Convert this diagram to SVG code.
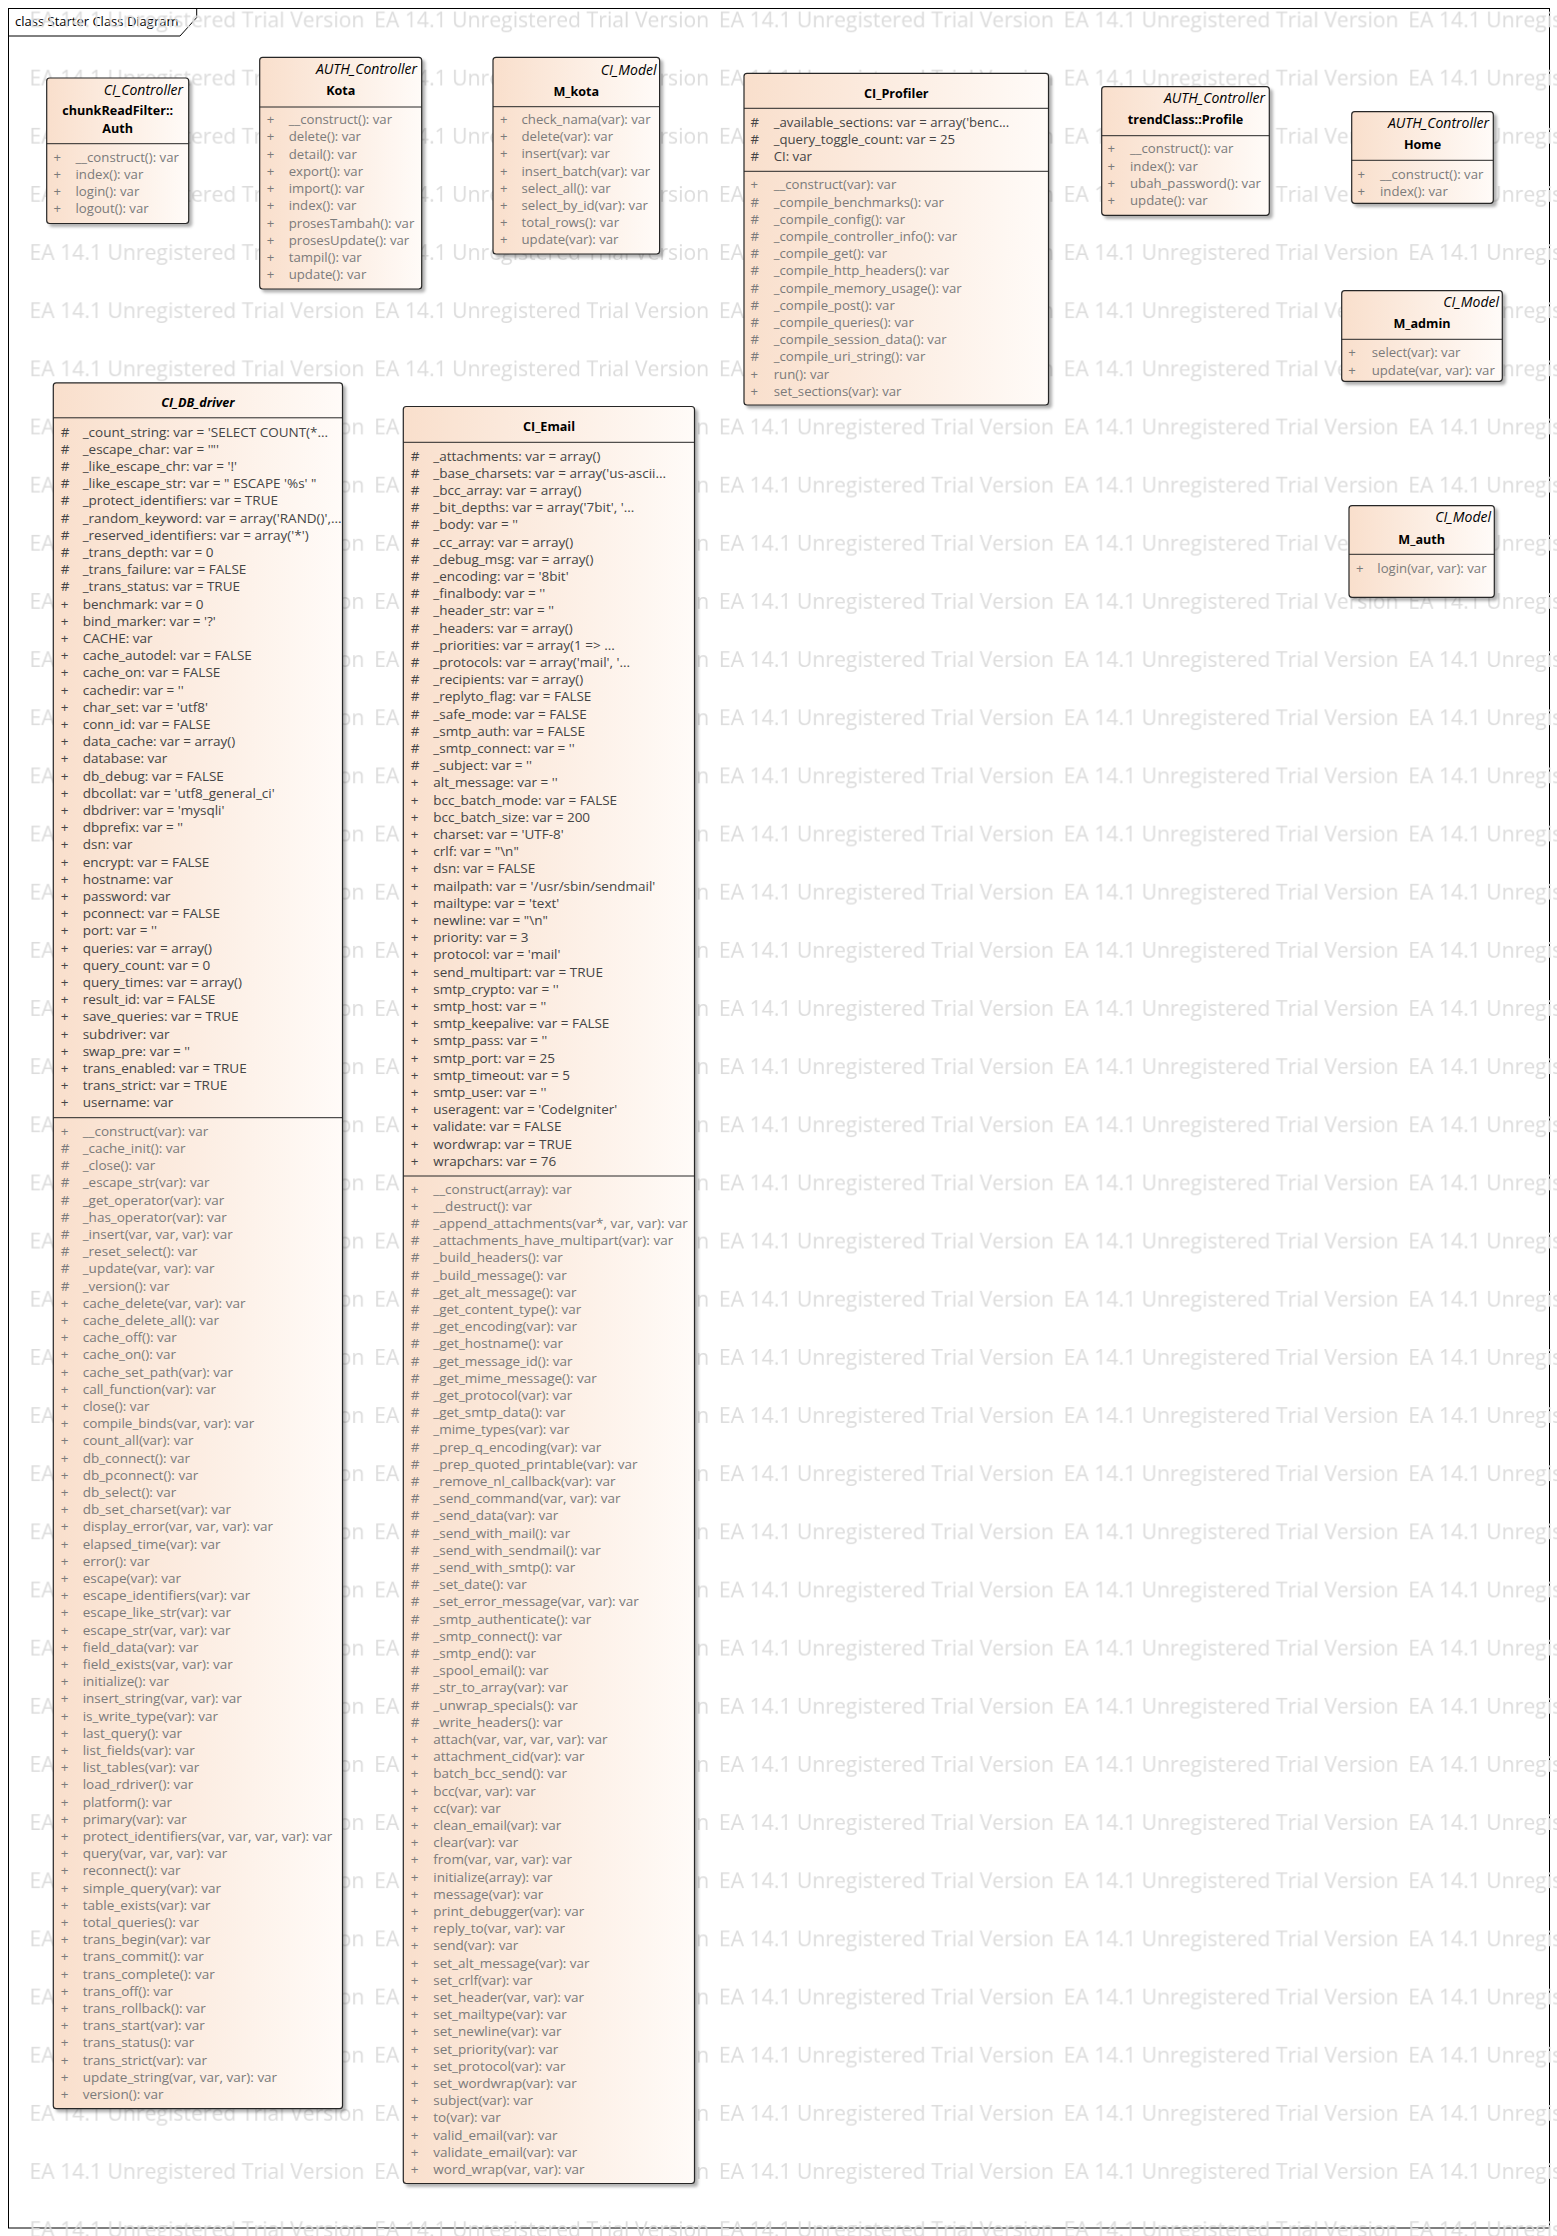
<svg xmlns="http://www.w3.org/2000/svg" width="1557" height="2236" viewBox="0 0 1557 2236">
<defs>
<linearGradient id="fillg" x1="0" y1="0" x2="1" y2="0"><stop offset="0" stop-color="#f9dfcc"/><stop offset="1" stop-color="#fffbf8"/></linearGradient>
<filter id="shadow" x="-5%" y="-5%" width="115%" height="115%"><feDropShadow dx="3" dy="3" stdDeviation="1.5" flood-color="#000" flood-opacity="0.3"/></filter>
<pattern id="wm" patternUnits="userSpaceOnUse" x="29.5" y="-18" width="344.7" height="58.15"><text class="wmt" x="0" y="45" textLength="335" lengthAdjust="spacingAndGlyphs">EA 14.1 Unregistered Trial Version</text></pattern>
</defs>
<style>
text{font-family:"Open Sans","Noto Sans","DejaVu Sans",sans-serif}
.box{fill:url(#fillg);stroke:#262626;stroke-width:1.2;filter:url(#shadow)}
.ln{stroke:#262626;stroke-width:1}
.st{font-size:14px;font-style:italic;text-anchor:end;fill:#000}
.nm{font-size:12.6px;font-weight:bold;text-anchor:middle;fill:#000}
.at{font-size:13.2px;fill:#454545}
.op{font-size:13.2px;fill:#7b7b7b}
.at.bg,.op.bg{font-size:13.5px}
.wmt{font-size:21px;fill:#dcdcdc}
.lbl{font-size:13px;fill:#000}
</style>
<rect x="0" y="0" width="1557" height="2236" fill="#fff"/>
<g id="frame">
<rect x="8.5" y="8.5" width="1541" height="2219.5" fill="none" stroke="#000" stroke-width="1"/>
<path d="M8.5,36 H180 L196.7,17.5 V8.5" fill="none" stroke="#000" stroke-width="1"/>
<text class="lbl" x="15" y="26">class Starter Class Diagram</text>
</g>
<rect id="watermark" x="29.5" y="0" width="1527.5" height="2236" fill="url(#wm)"/>
<g id="connectors"></g>

<g id="chunkReadFilter_Auth">
<rect class="box" x="46.7" y="78" width="142" height="145.5" rx="3"/>
<line class="ln" x1="46.7" y1="143.7" x2="188.7" y2="143.7"/>
<text class="st" x="183" y="94.5">CI_Controller</text>
<text class="nm" x="117.7" y="115">chunkReadFilter::</text>
<text class="nm" x="117.7" y="132.5">Auth</text>
<text class="op" y="144.5">
<tspan x="53.5" dy="17.2">+</tspan><tspan x="75.5">__construct(): var</tspan>
<tspan x="53.5" dy="17.2">+</tspan><tspan x="75.5">index(): var</tspan>
<tspan x="53.5" dy="17.2">+</tspan><tspan x="75.5">login(): var</tspan>
<tspan x="53.5" dy="17.2">+</tspan><tspan x="75.5">logout(): var</tspan>
</text>
</g>

<g id="Kota">
<rect class="box" x="259.7" y="57.3" width="162" height="231.7" rx="3"/>
<line class="ln" x1="259.7" y1="107" x2="421.7" y2="107"/>
<text class="st" x="417" y="74">AUTH_Controller</text>
<text class="nm" x="340.8" y="95">Kota</text>
<text class="op" y="106.74">
<tspan x="266.7" dy="17.26">+</tspan><tspan x="288.7">__construct(): var</tspan>
<tspan x="266.7" dy="17.26">+</tspan><tspan x="288.7">delete(): var</tspan>
<tspan x="266.7" dy="17.26">+</tspan><tspan x="288.7">detail(): var</tspan>
<tspan x="266.7" dy="17.26">+</tspan><tspan x="288.7">export(): var</tspan>
<tspan x="266.7" dy="17.26">+</tspan><tspan x="288.7">import(): var</tspan>
<tspan x="266.7" dy="17.26">+</tspan><tspan x="288.7">index(): var</tspan>
<tspan x="266.7" dy="17.26">+</tspan><tspan x="288.7">prosesTambah(): var</tspan>
<tspan x="266.7" dy="17.26">+</tspan><tspan x="288.7">prosesUpdate(): var</tspan>
<tspan x="266.7" dy="17.26">+</tspan><tspan x="288.7">tampil(): var</tspan>
<tspan x="266.7" dy="17.26">+</tspan><tspan x="288.7">update(): var</tspan>
</text>
</g>

<g id="M_kota">
<rect class="box" x="493" y="57.3" width="166.6" height="196.7" rx="3"/>
<line class="ln" x1="493" y1="106.7" x2="659.6" y2="106.7"/>
<text class="st" x="656.5" y="75">CI_Model</text>
<text class="nm" x="576.3" y="95.7">M_kota</text>
<text class="op" y="106.8">
<tspan x="500" dy="17.2">+</tspan><tspan x="521.5">check_nama(var): var</tspan>
<tspan x="500" dy="17.2">+</tspan><tspan x="521.5">delete(var): var</tspan>
<tspan x="500" dy="17.2">+</tspan><tspan x="521.5">insert(var): var</tspan>
<tspan x="500" dy="17.2">+</tspan><tspan x="521.5">insert_batch(var): var</tspan>
<tspan x="500" dy="17.2">+</tspan><tspan x="521.5">select_all(): var</tspan>
<tspan x="500" dy="17.2">+</tspan><tspan x="521.5">select_by_id(var): var</tspan>
<tspan x="500" dy="17.2">+</tspan><tspan x="521.5">total_rows(): var</tspan>
<tspan x="500" dy="17.2">+</tspan><tspan x="521.5">update(var): var</tspan>
</text>
</g>

<g id="CI_Profiler">
<rect class="box" x="744" y="73.3" width="304.5" height="331.7" rx="3"/>
<line class="ln" x1="744" y1="108.3" x2="1048.5" y2="108.3"/>
<line class="ln" x1="744" y1="171.3" x2="1048.5" y2="171.3"/>
<text class="nm" x="896.3" y="98.3">CI_Profiler</text>
<text class="at" y="109.5">
<tspan x="750.5" dy="17.2">#</tspan><tspan x="773.7">_available_sections: var = array('benc...</tspan>
<tspan x="750.5" dy="17.2">#</tspan><tspan x="773.7">_query_toggle_count: var = 25</tspan>
<tspan x="750.5" dy="17.2">#</tspan><tspan x="773.7">CI: var</tspan>
</text>
<text class="op" y="172.1">
<tspan x="750.5" dy="17.2">+</tspan><tspan x="773.7">__construct(var): var</tspan>
<tspan x="750.5" dy="17.2">#</tspan><tspan x="773.7">_compile_benchmarks(): var</tspan>
<tspan x="750.5" dy="17.2">#</tspan><tspan x="773.7">_compile_config(): var</tspan>
<tspan x="750.5" dy="17.2">#</tspan><tspan x="773.7">_compile_controller_info(): var</tspan>
<tspan x="750.5" dy="17.2">#</tspan><tspan x="773.7">_compile_get(): var</tspan>
<tspan x="750.5" dy="17.2">#</tspan><tspan x="773.7">_compile_http_headers(): var</tspan>
<tspan x="750.5" dy="17.2">#</tspan><tspan x="773.7">_compile_memory_usage(): var</tspan>
<tspan x="750.5" dy="17.2">#</tspan><tspan x="773.7">_compile_post(): var</tspan>
<tspan x="750.5" dy="17.2">#</tspan><tspan x="773.7">_compile_queries(): var</tspan>
<tspan x="750.5" dy="17.2">#</tspan><tspan x="773.7">_compile_session_data(): var</tspan>
<tspan x="750.5" dy="17.2">#</tspan><tspan x="773.7">_compile_uri_string(): var</tspan>
<tspan x="750.5" dy="17.2">+</tspan><tspan x="773.7">run(): var</tspan>
<tspan x="750.5" dy="17.2">+</tspan><tspan x="773.7">set_sections(var): var</tspan>
</text>
</g>

<g id="trendClass_Profile">
<rect class="box" x="1101.7" y="86.7" width="167.6" height="128.6" rx="3"/>
<line class="ln" x1="1101.7" y1="135.7" x2="1269.3" y2="135.7"/>
<text class="st" x="1265" y="103.3">AUTH_Controller</text>
<text class="nm" x="1185.5" y="124.3">trendClass::Profile</text>
<text class="op" y="136.1">
<tspan x="1107.5" dy="17.2">+</tspan><tspan x="1130">__construct(): var</tspan>
<tspan x="1107.5" dy="17.2">+</tspan><tspan x="1130">index(): var</tspan>
<tspan x="1107.5" dy="17.2">+</tspan><tspan x="1130">ubah_password(): var</tspan>
<tspan x="1107.5" dy="17.2">+</tspan><tspan x="1130">update(): var</tspan>
</text>
</g>

<g id="Home">
<rect class="box" x="1351.7" y="111.7" width="141.6" height="91.6" rx="3"/>
<line class="ln" x1="1351.7" y1="160.3" x2="1493.3" y2="160.3"/>
<text class="st" x="1489" y="128.3">AUTH_Controller</text>
<text class="nm" x="1422.5" y="149">Home</text>
<text class="op" y="161.5">
<tspan x="1357.5" dy="17.2">+</tspan><tspan x="1380">__construct(): var</tspan>
<tspan x="1357.5" dy="17.2">+</tspan><tspan x="1380">index(): var</tspan>
</text>
</g>

<g id="M_admin">
<rect class="box" x="1341.7" y="290.7" width="160.6" height="90.6" rx="3"/>
<line class="ln" x1="1341.7" y1="339.3" x2="1502.3" y2="339.3"/>
<text class="st" x="1499" y="307.3">CI_Model</text>
<text class="nm" x="1422" y="328.3">M_admin</text>
<text class="op" y="340.1">
<tspan x="1348.3" dy="17.2">+</tspan><tspan x="1371.7">select(var): var</tspan>
<tspan x="1348.3" dy="17.2">+</tspan><tspan x="1371.7">update(var, var): var</tspan>
</text>
</g>

<g id="M_auth">
<rect class="box" x="1349" y="505.7" width="145.3" height="91.6" rx="3"/>
<line class="ln" x1="1349" y1="554.3" x2="1494.3" y2="554.3"/>
<text class="st" x="1491" y="522.3">CI_Model</text>
<text class="nm" x="1421.7" y="544.3">M_auth</text>
<text class="op" y="573.3"><tspan x="1356">+</tspan><tspan x="1377.3">login(var, var): var</tspan></text>
</g>

<g id="CI_DB_driver">
<rect class="box" x="53.3" y="382.9" width="289.2" height="1725.8" rx="3"/>
<line class="ln" x1="53.3" y1="417.8" x2="342.5" y2="417.8"/>
<line class="ln" x1="53.3" y1="1117.7" x2="342.5" y2="1117.7"/>
<text class="nm" x="197.9" y="407.3" font-style="italic">CI_DB_driver</text>
<text class="at bg" y="419.3">
<tspan x="60.7" dy="17.2">#</tspan><tspan x="82.7">_count_string: var = 'SELECT COUNT(*...</tspan>
<tspan x="60.7" dy="17.2">#</tspan><tspan x="82.7">_escape_char: var = '"'</tspan>
<tspan x="60.7" dy="17.2">#</tspan><tspan x="82.7">_like_escape_chr: var = '!'</tspan>
<tspan x="60.7" dy="17.2">#</tspan><tspan x="82.7">_like_escape_str: var = " ESCAPE '%s' "</tspan>
<tspan x="60.7" dy="17.2">#</tspan><tspan x="82.7">_protect_identifiers: var = TRUE</tspan>
<tspan x="60.7" dy="17.2">#</tspan><tspan x="82.7">_random_keyword: var = array('RAND()',...</tspan>
<tspan x="60.7" dy="17.2">#</tspan><tspan x="82.7">_reserved_identifiers: var = array('*')</tspan>
<tspan x="60.7" dy="17.2">#</tspan><tspan x="82.7">_trans_depth: var = 0</tspan>
<tspan x="60.7" dy="17.2">#</tspan><tspan x="82.7">_trans_failure: var = FALSE</tspan>
<tspan x="60.7" dy="17.2">#</tspan><tspan x="82.7">_trans_status: var = TRUE</tspan>
<tspan x="60.7" dy="17.2">+</tspan><tspan x="82.7">benchmark: var = 0</tspan>
<tspan x="60.7" dy="17.2">+</tspan><tspan x="82.7">bind_marker: var = '?'</tspan>
<tspan x="60.7" dy="17.2">+</tspan><tspan x="82.7">CACHE: var</tspan>
<tspan x="60.7" dy="17.2">+</tspan><tspan x="82.7">cache_autodel: var = FALSE</tspan>
<tspan x="60.7" dy="17.2">+</tspan><tspan x="82.7">cache_on: var = FALSE</tspan>
<tspan x="60.7" dy="17.2">+</tspan><tspan x="82.7">cachedir: var = ''</tspan>
<tspan x="60.7" dy="17.2">+</tspan><tspan x="82.7">char_set: var = 'utf8'</tspan>
<tspan x="60.7" dy="17.2">+</tspan><tspan x="82.7">conn_id: var = FALSE</tspan>
<tspan x="60.7" dy="17.2">+</tspan><tspan x="82.7">data_cache: var = array()</tspan>
<tspan x="60.7" dy="17.2">+</tspan><tspan x="82.7">database: var</tspan>
<tspan x="60.7" dy="17.2">+</tspan><tspan x="82.7">db_debug: var = FALSE</tspan>
<tspan x="60.7" dy="17.2">+</tspan><tspan x="82.7">dbcollat: var = 'utf8_general_ci'</tspan>
<tspan x="60.7" dy="17.2">+</tspan><tspan x="82.7">dbdriver: var = 'mysqli'</tspan>
<tspan x="60.7" dy="17.2">+</tspan><tspan x="82.7">dbprefix: var = ''</tspan>
<tspan x="60.7" dy="17.2">+</tspan><tspan x="82.7">dsn: var</tspan>
<tspan x="60.7" dy="17.2">+</tspan><tspan x="82.7">encrypt: var = FALSE</tspan>
<tspan x="60.7" dy="17.2">+</tspan><tspan x="82.7">hostname: var</tspan>
<tspan x="60.7" dy="17.2">+</tspan><tspan x="82.7">password: var</tspan>
<tspan x="60.7" dy="17.2">+</tspan><tspan x="82.7">pconnect: var = FALSE</tspan>
<tspan x="60.7" dy="17.2">+</tspan><tspan x="82.7">port: var = ''</tspan>
<tspan x="60.7" dy="17.2">+</tspan><tspan x="82.7">queries: var = array()</tspan>
<tspan x="60.7" dy="17.2">+</tspan><tspan x="82.7">query_count: var = 0</tspan>
<tspan x="60.7" dy="17.2">+</tspan><tspan x="82.7">query_times: var = array()</tspan>
<tspan x="60.7" dy="17.2">+</tspan><tspan x="82.7">result_id: var = FALSE</tspan>
<tspan x="60.7" dy="17.2">+</tspan><tspan x="82.7">save_queries: var = TRUE</tspan>
<tspan x="60.7" dy="17.2">+</tspan><tspan x="82.7">subdriver: var</tspan>
<tspan x="60.7" dy="17.2">+</tspan><tspan x="82.7">swap_pre: var = ''</tspan>
<tspan x="60.7" dy="17.2">+</tspan><tspan x="82.7">trans_enabled: var = TRUE</tspan>
<tspan x="60.7" dy="17.2">+</tspan><tspan x="82.7">trans_strict: var = TRUE</tspan>
<tspan x="60.7" dy="17.2">+</tspan><tspan x="82.7">username: var</tspan>
</text>
<text class="op bg" y="1118.6">
<tspan x="60.7" dy="17.2">+</tspan><tspan x="82.7">__construct(var): var</tspan>
<tspan x="60.7" dy="17.2">#</tspan><tspan x="82.7">_cache_init(): var</tspan>
<tspan x="60.7" dy="17.2">#</tspan><tspan x="82.7">_close(): var</tspan>
<tspan x="60.7" dy="17.2">#</tspan><tspan x="82.7">_escape_str(var): var</tspan>
<tspan x="60.7" dy="17.2">#</tspan><tspan x="82.7">_get_operator(var): var</tspan>
<tspan x="60.7" dy="17.2">#</tspan><tspan x="82.7">_has_operator(var): var</tspan>
<tspan x="60.7" dy="17.2">#</tspan><tspan x="82.7">_insert(var, var, var): var</tspan>
<tspan x="60.7" dy="17.2">#</tspan><tspan x="82.7">_reset_select(): var</tspan>
<tspan x="60.7" dy="17.2">#</tspan><tspan x="82.7">_update(var, var): var</tspan>
<tspan x="60.7" dy="17.2">#</tspan><tspan x="82.7">_version(): var</tspan>
<tspan x="60.7" dy="17.2">+</tspan><tspan x="82.7">cache_delete(var, var): var</tspan>
<tspan x="60.7" dy="17.2">+</tspan><tspan x="82.7">cache_delete_all(): var</tspan>
<tspan x="60.7" dy="17.2">+</tspan><tspan x="82.7">cache_off(): var</tspan>
<tspan x="60.7" dy="17.2">+</tspan><tspan x="82.7">cache_on(): var</tspan>
<tspan x="60.7" dy="17.2">+</tspan><tspan x="82.7">cache_set_path(var): var</tspan>
<tspan x="60.7" dy="17.2">+</tspan><tspan x="82.7">call_function(var): var</tspan>
<tspan x="60.7" dy="17.2">+</tspan><tspan x="82.7">close(): var</tspan>
<tspan x="60.7" dy="17.2">+</tspan><tspan x="82.7">compile_binds(var, var): var</tspan>
<tspan x="60.7" dy="17.2">+</tspan><tspan x="82.7">count_all(var): var</tspan>
<tspan x="60.7" dy="17.2">+</tspan><tspan x="82.7">db_connect(): var</tspan>
<tspan x="60.7" dy="17.2">+</tspan><tspan x="82.7">db_pconnect(): var</tspan>
<tspan x="60.7" dy="17.2">+</tspan><tspan x="82.7">db_select(): var</tspan>
<tspan x="60.7" dy="17.2">+</tspan><tspan x="82.7">db_set_charset(var): var</tspan>
<tspan x="60.7" dy="17.2">+</tspan><tspan x="82.7">display_error(var, var, var): var</tspan>
<tspan x="60.7" dy="17.2">+</tspan><tspan x="82.7">elapsed_time(var): var</tspan>
<tspan x="60.7" dy="17.2">+</tspan><tspan x="82.7">error(): var</tspan>
<tspan x="60.7" dy="17.2">+</tspan><tspan x="82.7">escape(var): var</tspan>
<tspan x="60.7" dy="17.2">+</tspan><tspan x="82.7">escape_identifiers(var): var</tspan>
<tspan x="60.7" dy="17.2">+</tspan><tspan x="82.7">escape_like_str(var): var</tspan>
<tspan x="60.7" dy="17.2">+</tspan><tspan x="82.7">escape_str(var, var): var</tspan>
<tspan x="60.7" dy="17.2">+</tspan><tspan x="82.7">field_data(var): var</tspan>
<tspan x="60.7" dy="17.2">+</tspan><tspan x="82.7">field_exists(var, var): var</tspan>
<tspan x="60.7" dy="17.2">+</tspan><tspan x="82.7">initialize(): var</tspan>
<tspan x="60.7" dy="17.2">+</tspan><tspan x="82.7">insert_string(var, var): var</tspan>
<tspan x="60.7" dy="17.2">+</tspan><tspan x="82.7">is_write_type(var): var</tspan>
<tspan x="60.7" dy="17.2">+</tspan><tspan x="82.7">last_query(): var</tspan>
<tspan x="60.7" dy="17.2">+</tspan><tspan x="82.7">list_fields(var): var</tspan>
<tspan x="60.7" dy="17.2">+</tspan><tspan x="82.7">list_tables(var): var</tspan>
<tspan x="60.7" dy="17.2">+</tspan><tspan x="82.7">load_rdriver(): var</tspan>
<tspan x="60.7" dy="17.2">+</tspan><tspan x="82.7">platform(): var</tspan>
<tspan x="60.7" dy="17.2">+</tspan><tspan x="82.7">primary(var): var</tspan>
<tspan x="60.7" dy="17.2">+</tspan><tspan x="82.7">protect_identifiers(var, var, var, var): var</tspan>
<tspan x="60.7" dy="17.2">+</tspan><tspan x="82.7">query(var, var, var): var</tspan>
<tspan x="60.7" dy="17.2">+</tspan><tspan x="82.7">reconnect(): var</tspan>
<tspan x="60.7" dy="17.2">+</tspan><tspan x="82.7">simple_query(var): var</tspan>
<tspan x="60.7" dy="17.2">+</tspan><tspan x="82.7">table_exists(var): var</tspan>
<tspan x="60.7" dy="17.2">+</tspan><tspan x="82.7">total_queries(): var</tspan>
<tspan x="60.7" dy="17.2">+</tspan><tspan x="82.7">trans_begin(var): var</tspan>
<tspan x="60.7" dy="17.2">+</tspan><tspan x="82.7">trans_commit(): var</tspan>
<tspan x="60.7" dy="17.2">+</tspan><tspan x="82.7">trans_complete(): var</tspan>
<tspan x="60.7" dy="17.2">+</tspan><tspan x="82.7">trans_off(): var</tspan>
<tspan x="60.7" dy="17.2">+</tspan><tspan x="82.7">trans_rollback(): var</tspan>
<tspan x="60.7" dy="17.2">+</tspan><tspan x="82.7">trans_start(var): var</tspan>
<tspan x="60.7" dy="17.2">+</tspan><tspan x="82.7">trans_status(): var</tspan>
<tspan x="60.7" dy="17.2">+</tspan><tspan x="82.7">trans_strict(var): var</tspan>
<tspan x="60.7" dy="17.2">+</tspan><tspan x="82.7">update_string(var, var, var): var</tspan>
<tspan x="60.7" dy="17.2">+</tspan><tspan x="82.7">version(): var</tspan>
</text>
</g>

<g id="CI_Email">
<rect class="box" x="403.3" y="406.5" width="291.2" height="1777" rx="3"/>
<line class="ln" x1="403.3" y1="442.3" x2="694.5" y2="442.3"/>
<line class="ln" x1="403.3" y1="1176" x2="694.5" y2="1176"/>
<text class="nm" x="549" y="430.8">CI_Email</text>
<text class="at bg" y="443.3">
<tspan x="410.7" dy="17.2">#</tspan><tspan x="433.3">_attachments: var = array()</tspan>
<tspan x="410.7" dy="17.2">#</tspan><tspan x="433.3">_base_charsets: var = array('us-ascii...</tspan>
<tspan x="410.7" dy="17.2">#</tspan><tspan x="433.3">_bcc_array: var = array()</tspan>
<tspan x="410.7" dy="17.2">#</tspan><tspan x="433.3">_bit_depths: var = array('7bit', '...</tspan>
<tspan x="410.7" dy="17.2">#</tspan><tspan x="433.3">_body: var = ''</tspan>
<tspan x="410.7" dy="17.2">#</tspan><tspan x="433.3">_cc_array: var = array()</tspan>
<tspan x="410.7" dy="17.2">#</tspan><tspan x="433.3">_debug_msg: var = array()</tspan>
<tspan x="410.7" dy="17.2">#</tspan><tspan x="433.3">_encoding: var = '8bit'</tspan>
<tspan x="410.7" dy="17.2">#</tspan><tspan x="433.3">_finalbody: var = ''</tspan>
<tspan x="410.7" dy="17.2">#</tspan><tspan x="433.3">_header_str: var = ''</tspan>
<tspan x="410.7" dy="17.2">#</tspan><tspan x="433.3">_headers: var = array()</tspan>
<tspan x="410.7" dy="17.2">#</tspan><tspan x="433.3">_priorities: var = array(1 =&gt; ...</tspan>
<tspan x="410.7" dy="17.2">#</tspan><tspan x="433.3">_protocols: var = array('mail', '...</tspan>
<tspan x="410.7" dy="17.2">#</tspan><tspan x="433.3">_recipients: var = array()</tspan>
<tspan x="410.7" dy="17.2">#</tspan><tspan x="433.3">_replyto_flag: var = FALSE</tspan>
<tspan x="410.7" dy="17.2">#</tspan><tspan x="433.3">_safe_mode: var = FALSE</tspan>
<tspan x="410.7" dy="17.2">#</tspan><tspan x="433.3">_smtp_auth: var = FALSE</tspan>
<tspan x="410.7" dy="17.2">#</tspan><tspan x="433.3">_smtp_connect: var = ''</tspan>
<tspan x="410.7" dy="17.2">#</tspan><tspan x="433.3">_subject: var = ''</tspan>
<tspan x="410.7" dy="17.2">+</tspan><tspan x="433.3">alt_message: var = ''</tspan>
<tspan x="410.7" dy="17.2">+</tspan><tspan x="433.3">bcc_batch_mode: var = FALSE</tspan>
<tspan x="410.7" dy="17.2">+</tspan><tspan x="433.3">bcc_batch_size: var = 200</tspan>
<tspan x="410.7" dy="17.2">+</tspan><tspan x="433.3">charset: var = 'UTF-8'</tspan>
<tspan x="410.7" dy="17.2">+</tspan><tspan x="433.3">crlf: var = "\n"</tspan>
<tspan x="410.7" dy="17.2">+</tspan><tspan x="433.3">dsn: var = FALSE</tspan>
<tspan x="410.7" dy="17.2">+</tspan><tspan x="433.3">mailpath: var = '/usr/sbin/sendmail'</tspan>
<tspan x="410.7" dy="17.2">+</tspan><tspan x="433.3">mailtype: var = 'text'</tspan>
<tspan x="410.7" dy="17.2">+</tspan><tspan x="433.3">newline: var = "\n"</tspan>
<tspan x="410.7" dy="17.2">+</tspan><tspan x="433.3">priority: var = 3</tspan>
<tspan x="410.7" dy="17.2">+</tspan><tspan x="433.3">protocol: var = 'mail'</tspan>
<tspan x="410.7" dy="17.2">+</tspan><tspan x="433.3">send_multipart: var = TRUE</tspan>
<tspan x="410.7" dy="17.2">+</tspan><tspan x="433.3">smtp_crypto: var = ''</tspan>
<tspan x="410.7" dy="17.2">+</tspan><tspan x="433.3">smtp_host: var = ''</tspan>
<tspan x="410.7" dy="17.2">+</tspan><tspan x="433.3">smtp_keepalive: var = FALSE</tspan>
<tspan x="410.7" dy="17.2">+</tspan><tspan x="433.3">smtp_pass: var = ''</tspan>
<tspan x="410.7" dy="17.2">+</tspan><tspan x="433.3">smtp_port: var = 25</tspan>
<tspan x="410.7" dy="17.2">+</tspan><tspan x="433.3">smtp_timeout: var = 5</tspan>
<tspan x="410.7" dy="17.2">+</tspan><tspan x="433.3">smtp_user: var = ''</tspan>
<tspan x="410.7" dy="17.2">+</tspan><tspan x="433.3">useragent: var = 'CodeIgniter'</tspan>
<tspan x="410.7" dy="17.2">+</tspan><tspan x="433.3">validate: var = FALSE</tspan>
<tspan x="410.7" dy="17.2">+</tspan><tspan x="433.3">wordwrap: var = TRUE</tspan>
<tspan x="410.7" dy="17.2">+</tspan><tspan x="433.3">wrapchars: var = 76</tspan>
</text>
<text class="op bg" y="1176.3">
<tspan x="410.7" dy="17.2">+</tspan><tspan x="433.3">__construct(array): var</tspan>
<tspan x="410.7" dy="17.2">+</tspan><tspan x="433.3">__destruct(): var</tspan>
<tspan x="410.7" dy="17.2">#</tspan><tspan x="433.3">_append_attachments(var*, var, var): var</tspan>
<tspan x="410.7" dy="17.2">#</tspan><tspan x="433.3">_attachments_have_multipart(var): var</tspan>
<tspan x="410.7" dy="17.2">#</tspan><tspan x="433.3">_build_headers(): var</tspan>
<tspan x="410.7" dy="17.2">#</tspan><tspan x="433.3">_build_message(): var</tspan>
<tspan x="410.7" dy="17.2">#</tspan><tspan x="433.3">_get_alt_message(): var</tspan>
<tspan x="410.7" dy="17.2">#</tspan><tspan x="433.3">_get_content_type(): var</tspan>
<tspan x="410.7" dy="17.2">#</tspan><tspan x="433.3">_get_encoding(var): var</tspan>
<tspan x="410.7" dy="17.2">#</tspan><tspan x="433.3">_get_hostname(): var</tspan>
<tspan x="410.7" dy="17.2">#</tspan><tspan x="433.3">_get_message_id(): var</tspan>
<tspan x="410.7" dy="17.2">#</tspan><tspan x="433.3">_get_mime_message(): var</tspan>
<tspan x="410.7" dy="17.2">#</tspan><tspan x="433.3">_get_protocol(var): var</tspan>
<tspan x="410.7" dy="17.2">#</tspan><tspan x="433.3">_get_smtp_data(): var</tspan>
<tspan x="410.7" dy="17.2">#</tspan><tspan x="433.3">_mime_types(var): var</tspan>
<tspan x="410.7" dy="17.2">#</tspan><tspan x="433.3">_prep_q_encoding(var): var</tspan>
<tspan x="410.7" dy="17.2">#</tspan><tspan x="433.3">_prep_quoted_printable(var): var</tspan>
<tspan x="410.7" dy="17.2">#</tspan><tspan x="433.3">_remove_nl_callback(var): var</tspan>
<tspan x="410.7" dy="17.2">#</tspan><tspan x="433.3">_send_command(var, var): var</tspan>
<tspan x="410.7" dy="17.2">#</tspan><tspan x="433.3">_send_data(var): var</tspan>
<tspan x="410.7" dy="17.2">#</tspan><tspan x="433.3">_send_with_mail(): var</tspan>
<tspan x="410.7" dy="17.2">#</tspan><tspan x="433.3">_send_with_sendmail(): var</tspan>
<tspan x="410.7" dy="17.2">#</tspan><tspan x="433.3">_send_with_smtp(): var</tspan>
<tspan x="410.7" dy="17.2">#</tspan><tspan x="433.3">_set_date(): var</tspan>
<tspan x="410.7" dy="17.2">#</tspan><tspan x="433.3">_set_error_message(var, var): var</tspan>
<tspan x="410.7" dy="17.2">#</tspan><tspan x="433.3">_smtp_authenticate(): var</tspan>
<tspan x="410.7" dy="17.2">#</tspan><tspan x="433.3">_smtp_connect(): var</tspan>
<tspan x="410.7" dy="17.2">#</tspan><tspan x="433.3">_smtp_end(): var</tspan>
<tspan x="410.7" dy="17.2">#</tspan><tspan x="433.3">_spool_email(): var</tspan>
<tspan x="410.7" dy="17.2">#</tspan><tspan x="433.3">_str_to_array(var): var</tspan>
<tspan x="410.7" dy="17.2">#</tspan><tspan x="433.3">_unwrap_specials(): var</tspan>
<tspan x="410.7" dy="17.2">#</tspan><tspan x="433.3">_write_headers(): var</tspan>
<tspan x="410.7" dy="17.2">+</tspan><tspan x="433.3">attach(var, var, var, var): var</tspan>
<tspan x="410.7" dy="17.2">+</tspan><tspan x="433.3">attachment_cid(var): var</tspan>
<tspan x="410.7" dy="17.2">+</tspan><tspan x="433.3">batch_bcc_send(): var</tspan>
<tspan x="410.7" dy="17.2">+</tspan><tspan x="433.3">bcc(var, var): var</tspan>
<tspan x="410.7" dy="17.2">+</tspan><tspan x="433.3">cc(var): var</tspan>
<tspan x="410.7" dy="17.2">+</tspan><tspan x="433.3">clean_email(var): var</tspan>
<tspan x="410.7" dy="17.2">+</tspan><tspan x="433.3">clear(var): var</tspan>
<tspan x="410.7" dy="17.2">+</tspan><tspan x="433.3">from(var, var, var): var</tspan>
<tspan x="410.7" dy="17.2">+</tspan><tspan x="433.3">initialize(array): var</tspan>
<tspan x="410.7" dy="17.2">+</tspan><tspan x="433.3">message(var): var</tspan>
<tspan x="410.7" dy="17.2">+</tspan><tspan x="433.3">print_debugger(var): var</tspan>
<tspan x="410.7" dy="17.2">+</tspan><tspan x="433.3">reply_to(var, var): var</tspan>
<tspan x="410.7" dy="17.2">+</tspan><tspan x="433.3">send(var): var</tspan>
<tspan x="410.7" dy="17.2">+</tspan><tspan x="433.3">set_alt_message(var): var</tspan>
<tspan x="410.7" dy="17.2">+</tspan><tspan x="433.3">set_crlf(var): var</tspan>
<tspan x="410.7" dy="17.2">+</tspan><tspan x="433.3">set_header(var, var): var</tspan>
<tspan x="410.7" dy="17.2">+</tspan><tspan x="433.3">set_mailtype(var): var</tspan>
<tspan x="410.7" dy="17.2">+</tspan><tspan x="433.3">set_newline(var): var</tspan>
<tspan x="410.7" dy="17.2">+</tspan><tspan x="433.3">set_priority(var): var</tspan>
<tspan x="410.7" dy="17.2">+</tspan><tspan x="433.3">set_protocol(var): var</tspan>
<tspan x="410.7" dy="17.2">+</tspan><tspan x="433.3">set_wordwrap(var): var</tspan>
<tspan x="410.7" dy="17.2">+</tspan><tspan x="433.3">subject(var): var</tspan>
<tspan x="410.7" dy="17.2">+</tspan><tspan x="433.3">to(var): var</tspan>
<tspan x="410.7" dy="17.2">+</tspan><tspan x="433.3">valid_email(var): var</tspan>
<tspan x="410.7" dy="17.2">+</tspan><tspan x="433.3">validate_email(var): var</tspan>
<tspan x="410.7" dy="17.2">+</tspan><tspan x="433.3">word_wrap(var, var): var</tspan>
</text>
</g>
</svg>
